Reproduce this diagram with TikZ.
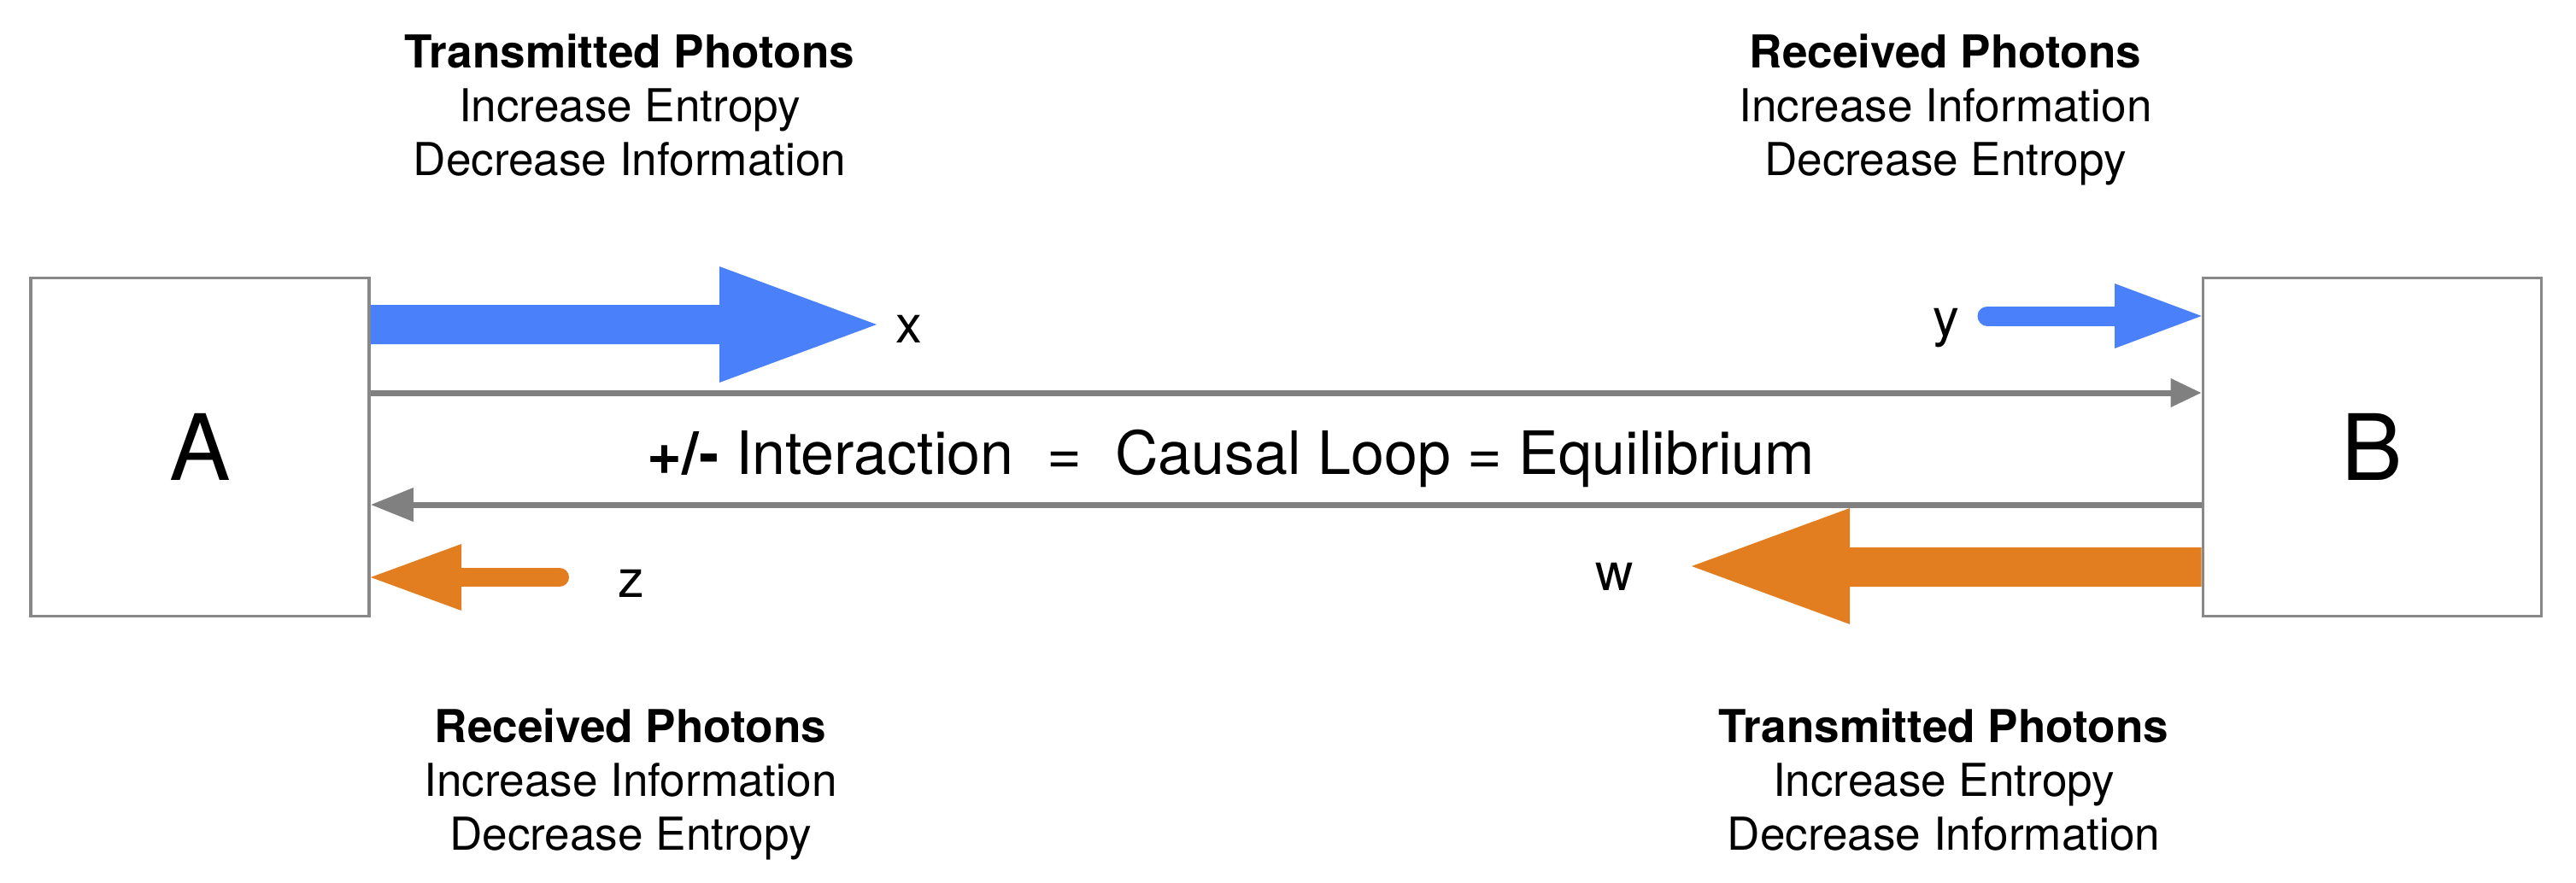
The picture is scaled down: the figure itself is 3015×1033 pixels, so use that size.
\documentclass[tikz,border=0pt]{standalone}
\usepackage{fontspec}
\setmainfont{TeX Gyre Heros}
\usetikzlibrary{arrows.meta,calc}
\definecolor{pblue}{RGB}{74,128,250}
\definecolor{porange}{RGB}{227,126,32}
\definecolor{lgray}{RGB}{128,128,128}
\definecolor{bgray}{RGB}{136,136,136}
\begin{document}
\begin{tikzpicture}[x=0.01cm,y=-0.01cm,
 box/.style={draw=bgray, line width=0.035cm, minimum width=3.96cm, minimum height=3.96cm, inner sep=0, font=\fontsize{30.5}{36}\selectfont},
 info/.style={anchor=north, align=center, inner sep=0, font=\fontsize{15.1}{17.9}\selectfont},
 lbl/.style={inner sep=0, font=\fontsize{17.5}{21}\selectfont},
 link/.style={draw=lgray, line width=0.07cm},
]
\useasboundingbox (0,0) rectangle (3015,1033);
\node[box] (A) at (234,523.5) {A};
\node[box] (B) at (2776.5,523.5) {B};

% gray interaction lines
\draw[link,-{Triangle[length=0.36cm,width=0.32cm]}] (A.east |- 0,460) -- (B.west |- 0,460);
\draw[link,-{Triangle[length=0.5cm,width=0.38cm]}] (B.west |- 0,591) -- (A.east |- 0,591);

% big blue arrow x
\coordinate (xtip) at (1026,380);
\fill[pblue] (A.east |- 0,357) -- (842,357) -- (842,312) -- (xtip) -- (842,448) -- (842,403) -- (A.east |- 0,403) -- cycle;

% big orange arrow w
\coordinate (wtip) at (1980,663);
\fill[porange] (B.west |- 0,641) -- (2165,641) -- (2165,595) -- (wtip) -- (2165,731) -- (2165,687) -- (B.west |- 0,687) -- cycle;

% small blue arrow y
\coordinate (ytail) at (2326,370);
\draw[pblue, line width=0.23cm, line cap=round] (ytail) -- (2480,370);
\fill[pblue] (2475,332) -- (B.west |- 0,370) -- (2475,408) -- cycle;

% small orange arrow z
\coordinate (ztail) at (655,676);
\draw[porange, line width=0.22cm, line cap=round] (ztail) -- (535,676);
\fill[porange] (540,637) -- (A.east |- 0,676) -- (540,715) -- cycle;

% labels
\node[lbl, anchor=base west] (xl) at (1048,401) {x};
\node[lbl, anchor=base west] (yl) at (2262,393) {y};
\node[lbl, anchor=base west] (zl) at (723,699) {z};
\node[lbl, anchor=base east] (wl) at (1913,691) {w};

\node[font=\fontsize{19.9}{23}\selectfont, anchor=base, inner sep=0] (mid) at (1441,555) {\textbf{+/-} Interaction\ \ =\ \ Causal Loop = Equilibrium};

\node[info] (tl) at (737,39) {\textbf{Transmitted Photons}\\Increase Entropy\\Decrease Information};
\node[info] (tr) at (2277,39) {\textbf{Received Photons}\\Increase Information\\Decrease Entropy};
\node[info] (bl) at (738,829) {\textbf{Received Photons}\\Increase Information\\Decrease Entropy};
\node[info] (br) at (2275,829) {\textbf{Transmitted Photons}\\Increase Entropy\\Decrease Information};
\end{tikzpicture}
\end{document}
